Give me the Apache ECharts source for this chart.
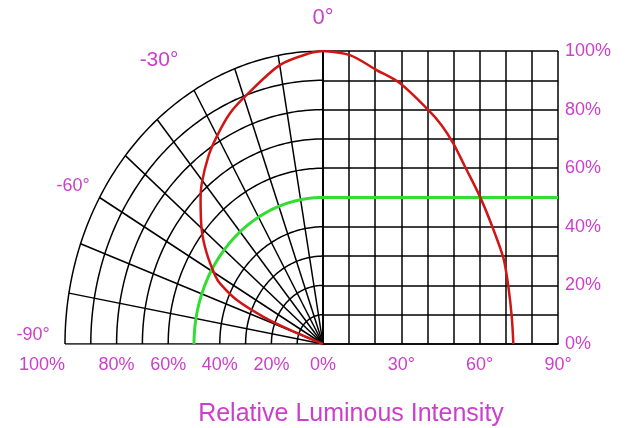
<!DOCTYPE html>
<html>
<head>
<meta charset="utf-8">
<script src="https://cdn.jsdelivr.net/npm/echarts@6/dist/echarts.min.js"></script>
<style>
  html, body { margin: 0; background: #fff; }
  #chart-container { width: 627px; height: 428px; }
</style>
</head>
<body>
<div id="chart-container"></div>
<script>
// right half: relative intensity (%) against angle (deg)
var angles = [0, 10.3, 20.5, 29.5, 40.3, 45.4, 49.9, 54.4, 60.1, 64.6, 69.1, 71.0, 72.3, 72.9];
var intensity = [100, 98.6, 93.5, 89.0, 79.9, 74.7, 68.5, 60.5, 50.3, 40.6, 29.3, 19.5, 9.2, 0];

// left half: same beam drawn as a polar pattern
var polarAngles = [0, -2.9, -9.9, -19.2, -24.6, -30.2, -34.8, -40.6, -44.0, -50.4, -55.5, -60.7, -62.6, -65.8, -68.1, -69.4, -70];
var polarIntensity = [100, 99.4, 96.7, 90.0, 86.6, 81.9, 77.9, 72.2, 68.3, 61.0, 54.7, 48.0, 45.0, 36.6, 24.9, 13.7, 0];

var halfLevel = 50;
var ringLevels = [10, 20, 30, 40, 50, 60, 70, 80, 90, 100];
var spokeAngles = [-90, -80, -70, -60, -50, -40, -30, -20, -10, 0];

// tick labels
var polarTickLabels = [100, 80, 60, 40, 20, 0];
var angleTickLabels = [30, 60, 90];
var percentTickLabels = [0, 20, 40, 60, 80, 100];
var angleMarks = ['0°', '-30°', '-60°', '-90°'];

var magenta = '#cc3fcc';
var gridColor = '#000';
var red = '#d01515';
var green = '#33dd33';
var font = 'Liberation Sans, Arial, sans-serif';

function toXY(deg, r) {
  var a = deg * Math.PI / 180;
  return [r * Math.sin(a), r * Math.cos(a)];
}

function arc(r) {
  var pts = [];
  for (var d = -90; d <= 0; d += 1) pts.push(toXY(d, r));
  return pts;
}

var polarGrid = [];
ringLevels.forEach(function (r) { polarGrid.push({ coords: arc(r) }); });
spokeAngles.forEach(function (d) { polarGrid.push({ coords: [[0, 0], toXY(d, 100)] }); });

var polarCurve = polarAngles.map(function (d, i) { return toXY(d, polarIntensity[i]); });
var rightCurve = angles.map(function (a, i) { return [a, intensity[i]]; });

var dom = document.getElementById('chart-container');
var myChart = echarts.init(dom, null, { renderer: 'canvas' });

var option = {
  animation: false,
  backgroundColor: '#fff',
  textStyle: { fontFamily: font },
  title: {
    text: 'Relative Luminous Intensity',
    left: 346,
    textAlign: 'center',
    top: 397,
    textStyle: { color: magenta, fontSize: 25, fontWeight: 'normal', fontFamily: font }
  },
  grid: [
    { left: 65, top: 51, width: 258, height: 293 },
    { left: 323, top: 51, width: 235, height: 293 }
  ],
  xAxis: [
    {
      gridIndex: 0, type: 'value', min: -100, max: 0, interval: 20,
      axisLine: { show: false }, axisTick: { show: false }, splitLine: { show: false },
      axisLabel: {
        color: magenta, fontSize: 18, margin: 12, alignMinLabel: 'right',
        formatter: function (v) {
          return polarTickLabels.indexOf(Math.abs(v)) >= 0 ? Math.abs(v) + '%' : '';
        }
      }
    },
    {
      gridIndex: 1, type: 'value', min: 0, max: 90, interval: 10,
      axisLine: { lineStyle: { color: gridColor, width: 1.5 } },
      axisTick: { show: false },
      splitLine: { lineStyle: { color: gridColor, width: 1.5 } },
      axisLabel: {
        color: magenta, fontSize: 18, margin: 12,
        formatter: function (v) { return angleTickLabels.indexOf(v) >= 0 ? v + '°' : ''; }
      }
    }
  ],
  yAxis: [
    { gridIndex: 0, type: 'value', min: 0, max: 100, show: false },
    {
      gridIndex: 1, type: 'value', min: 0, max: 100, interval: 10, position: 'right',
      axisLine: { show: true, lineStyle: { color: gridColor, width: 1.5 } },
      axisTick: { show: false },
      splitLine: { lineStyle: { color: gridColor, width: 1.5 } },
      axisLabel: {
        color: magenta, fontSize: 18, margin: 7, padding: [0, 0, 10, 0],
        formatter: function (v) { return percentTickLabels.indexOf(v) >= 0 ? v + '%' : ''; }
      }
    }
  ],
  graphic: [
    { type: 'text', x: 323, y: 18, style: { text: angleMarks[0], fill: magenta, font: '22px ' + font, align: 'center', verticalAlign: 'middle' } },
    { type: 'text', x: 159, y: 60, style: { text: angleMarks[1], fill: magenta, font: '21px ' + font, align: 'center', verticalAlign: 'middle' } },
    { type: 'text', x: 73, y: 186, style: { text: angleMarks[2], fill: magenta, font: '18px ' + font, align: 'center', verticalAlign: 'middle' } },
    { type: 'text', x: 33, y: 335, style: { text: angleMarks[3], fill: magenta, font: '18px ' + font, align: 'center', verticalAlign: 'middle' } }
  ],
  series: [
    {
      name: 'polar grid', type: 'lines', coordinateSystem: 'cartesian2d',
      xAxisIndex: 0, yAxisIndex: 0, polyline: true, silent: true,
      lineStyle: { color: gridColor, width: 1.5, opacity: 1 },
      data: polarGrid, z: 1
    },
    {
      name: 'half (polar)', type: 'line', xAxisIndex: 0, yAxisIndex: 0,
      showSymbol: false, lineStyle: { color: green, width: 3 },
      data: arc(halfLevel), z: 3
    },
    {
      name: 'half', type: 'line', xAxisIndex: 1, yAxisIndex: 1,
      showSymbol: false, lineStyle: { color: green, width: 3 },
      data: [[0, halfLevel], [90, halfLevel]], z: 3
    },
    {
      name: 'pattern (polar)', type: 'line', xAxisIndex: 0, yAxisIndex: 0,
      showSymbol: false, smooth: 0.3, lineStyle: { color: red, width: 2.5 },
      data: polarCurve, z: 4
    },
    {
      name: 'pattern', type: 'line', xAxisIndex: 1, yAxisIndex: 1,
      showSymbol: false, smooth: 0.3, lineStyle: { color: red, width: 2.5 },
      data: rightCurve, z: 4
    }
  ]
};

myChart.setOption(option);
window.addEventListener('resize', myChart.resize);
</script>
</body>
</html>
